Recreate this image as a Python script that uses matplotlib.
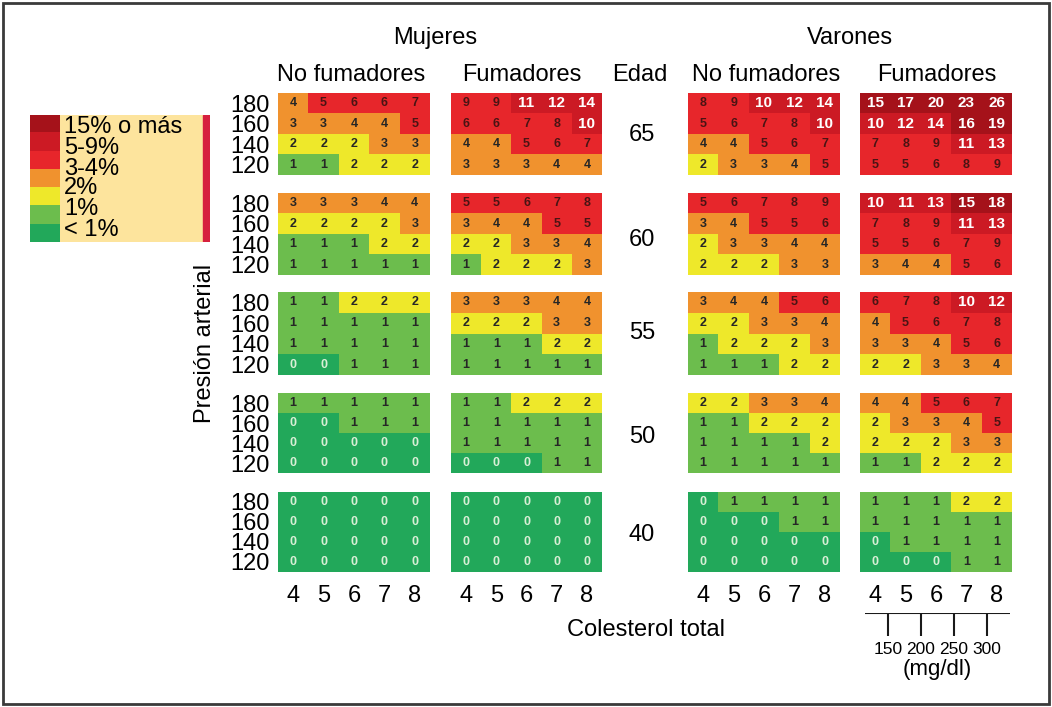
import numpy as np
import matplotlib
matplotlib.use('Agg')
import matplotlib.pyplot as plt
from matplotlib.colors import ListedColormap
from matplotlib.patches import Rectangle

plt.rcParams['font.family'] = ['Liberation Sans', 'DejaVu Sans']

# Datos: riesgo SCORE (%), filas = presión 180,160,140,120; columnas = colesterol 4..8
edades = [65, 60, 55, 50, 40]
presion = [180, 160, 140, 120]
colesterol = [4, 5, 6, 7, 8]

mujeres_no_fum = [
    [[4, 5, 6, 6, 7], [3, 3, 4, 4, 5], [2, 2, 2, 3, 3], [1, 1, 2, 2, 2]],
    [[3, 3, 3, 4, 4], [2, 2, 2, 2, 3], [1, 1, 1, 2, 2], [1, 1, 1, 1, 1]],
    [[1, 1, 2, 2, 2], [1, 1, 1, 1, 1], [1, 1, 1, 1, 1], [0, 0, 1, 1, 1]],
    [[1, 1, 1, 1, 1], [0, 0, 1, 1, 1], [0, 0, 0, 0, 0], [0, 0, 0, 0, 0]],
    [[0, 0, 0, 0, 0], [0, 0, 0, 0, 0], [0, 0, 0, 0, 0], [0, 0, 0, 0, 0]],
]
mujeres_fum = [
    [[9, 9, 11, 12, 14], [6, 6, 7, 8, 10], [4, 4, 5, 6, 7], [3, 3, 3, 4, 4]],
    [[5, 5, 6, 7, 8], [3, 4, 4, 5, 5], [2, 2, 3, 3, 4], [1, 2, 2, 2, 3]],
    [[3, 3, 3, 4, 4], [2, 2, 2, 3, 3], [1, 1, 1, 2, 2], [1, 1, 1, 1, 1]],
    [[1, 1, 2, 2, 2], [1, 1, 1, 1, 1], [1, 1, 1, 1, 1], [0, 0, 0, 1, 1]],
    [[0, 0, 0, 0, 0], [0, 0, 0, 0, 0], [0, 0, 0, 0, 0], [0, 0, 0, 0, 0]],
]
varones_no_fum = [
    [[8, 9, 10, 12, 14], [5, 6, 7, 8, 10], [4, 4, 5, 6, 7], [2, 3, 3, 4, 5]],
    [[5, 6, 7, 8, 9], [3, 4, 5, 5, 6], [2, 3, 3, 4, 4], [2, 2, 2, 3, 3]],
    [[3, 4, 4, 5, 6], [2, 2, 3, 3, 4], [1, 2, 2, 2, 3], [1, 1, 1, 2, 2]],
    [[2, 2, 3, 3, 4], [1, 1, 2, 2, 2], [1, 1, 1, 1, 2], [1, 1, 1, 1, 1]],
    [[0, 1, 1, 1, 1], [0, 0, 0, 1, 1], [0, 0, 0, 0, 0], [0, 0, 0, 0, 0]],
]
varones_fum = [
    [[15, 17, 20, 23, 26], [10, 12, 14, 16, 19], [7, 8, 9, 11, 13], [5, 5, 6, 8, 9]],
    [[10, 11, 13, 15, 18], [7, 8, 9, 11, 13], [5, 5, 6, 7, 9], [3, 4, 4, 5, 6]],
    [[6, 7, 8, 10, 12], [4, 5, 6, 7, 8], [3, 3, 4, 5, 6], [2, 2, 3, 3, 4]],
    [[4, 4, 5, 6, 7], [2, 3, 3, 4, 5], [2, 2, 2, 3, 3], [1, 1, 2, 2, 2]],
    [[1, 1, 1, 2, 2], [1, 1, 1, 1, 1], [0, 1, 1, 1, 1], [0, 0, 0, 1, 1]],
]
leyenda = ['15% o más', '5-9%', '3-4%', '2%', '1%', '< 1%']
mgdl = [150, 200, 250, 300]

# colores por nivel: <1, 1, 2, 3-4, 5-9, 10-14, >=15
colores = ['#22a85a', '#6cbd4d', '#eee82a', '#f0922e', '#e7262b', '#cc1a24', '#a5121a']
cmap = ListedColormap(colores)


def nivel(v):
    if v >= 15:
        return 6
    if v >= 10:
        return 5
    if v >= 5:
        return 4
    if v >= 3:
        return 3
    return v


W, H = 1052, 707
fig = plt.figure(figsize=(W / 100, H / 100), dpi=100)
FS = 17


def caja(x0, y0, x1, y1):
    return [x0 / W, 1 - y1 / H, (x1 - x0) / W, (y1 - y0) / H]


def ftext(x, y, s, **kw):
    fig.text(x / W, 1 - y / H, s, **kw)


# marco exterior
fig.patches.append(Rectangle((3 / W, 3 / H), 1 - 6 / W, 1 - 6 / H, transform=fig.transFigure,
                             fill=False, edgecolor='#3a3a3a', linewidth=2))

cols_x = [(278, 430), (451, 602), (688, 840), (860, 1012)]
rows_y = [(93, 175), (193, 275), (292, 375), (393, 473), (492, 572)]
paneles = [mujeres_no_fum, mujeres_fum, varones_no_fum, varones_fum]

for j, panel in enumerate(paneles):
    for i, edad in enumerate(edades):
        datos = np.array(panel[i])
        ax = fig.add_axes(caja(cols_x[j][0], rows_y[i][0], cols_x[j][1], rows_y[i][1]))
        niveles = np.vectorize(nivel)(datos)
        ax.pcolormesh(np.arange(3.5, 9.0, 1.0), np.arange(110, 200, 20), niveles[::-1],
                      cmap=cmap, vmin=-0.5, vmax=6.5, shading='flat')
        for r, p in enumerate(presion):
            for c, col in enumerate(colesterol):
                v = datos[r, c]
                if v == 0:
                    color, fs = '#d9efd6', 9
                elif v >= 10:
                    color, fs = 'white', 11
                elif v >= 5:
                    color, fs = '#4a1414', 9
                else:
                    color, fs = '#262626', 9
                ax.text(col, p, str(v), ha='center', va='center', color=color,
                        fontsize=fs, fontweight='bold')
        ax.set_xlim(3.5, 8.5)
        ax.set_ylim(110, 190)
        for s in ax.spines.values():
            s.set_visible(False)
        ax.tick_params(length=0, labelsize=FS)
        if j == 0:
            ax.set_yticks(presion)
            ax.set_yticklabels([str(p) for p in presion])
            ax.tick_params(axis='y', pad=6)
        else:
            ax.set_yticks([])
        if i == len(edades) - 1:
            ax.set_xticks(colesterol)
            ax.set_xticklabels([str(c) for c in colesterol])
            ax.tick_params(axis='x', pad=9)
        else:
            ax.set_xticks([])

# edades
edad_y = [135, 240, 333, 437, 535]
for edad, y in zip(edades, edad_y):
    ftext(642, y, str(edad), ha='center', va='center', fontsize=FS)

# encabezados
ftext(435, 38, 'Mujeres', ha='center', va='center', fontsize=FS)
ftext(850, 38, 'Varones', ha='center', va='center', fontsize=FS)
ftext(351, 75, 'No fumadores', ha='center', va='center', fontsize=FS)
ftext(522, 75, 'Fumadores', ha='center', va='center', fontsize=FS)
ftext(640, 75, 'Edad', ha='center', va='center', fontsize=FS)
ftext(766, 75, 'No fumadores', ha='center', va='center', fontsize=FS)
ftext(937, 75, 'Fumadores', ha='center', va='center', fontsize=FS)
ftext(646, 630, 'Colesterol total', ha='center', va='center', fontsize=FS)
ftext(205, 343, 'Presión arterial', ha='center', va='center', fontsize=FS, rotation=90)

# escala mg/dl
axm = fig.add_axes(caja(865, 613, 1010, 636))
axm.set_xlim(115, 335)
axm.set_ylim(0, 1)
axm.axhline(1, color='#1a1a1a', linewidth=1.5)
axm.vlines(mgdl, 0, 1, color='#1a1a1a', linewidth=1.5)
axm.axis('off')
for m in mgdl:
    axm.annotate(str(m), (m, 0), xytext=(0, -14), textcoords='offset pixels',
                 ha='center', va='center', fontsize=12.5)
ftext(937, 670, '(mg/dl)', ha='center', va='center', fontsize=16)

# leyenda
axl = fig.add_axes(caja(30, 115, 210, 242))
axl.set_xlim(0, 180)
axl.set_ylim(7, 0)
axl.set_facecolor('#fde49d')
axl.imshow(np.arange(6, -1, -1).reshape(-1, 1), cmap=cmap, vmin=-0.5, vmax=6.5,
           extent=(0, 30, 7, 0), aspect='auto')
axl.add_patch(Rectangle((173, 0), 7, 7, color='#d6203e'))
ley_y = [0.65, 1.8, 2.95, 4.05, 5.2, 6.35]
for lab, y in zip(leyenda, ley_y):
    axl.text(34, y, lab, ha='left', va='center', fontsize=FS)
axl.set_xticks([])
axl.set_yticks([])
for s in axl.spines.values():
    s.set_visible(False)

fig.savefig('out.png', dpi=100)
